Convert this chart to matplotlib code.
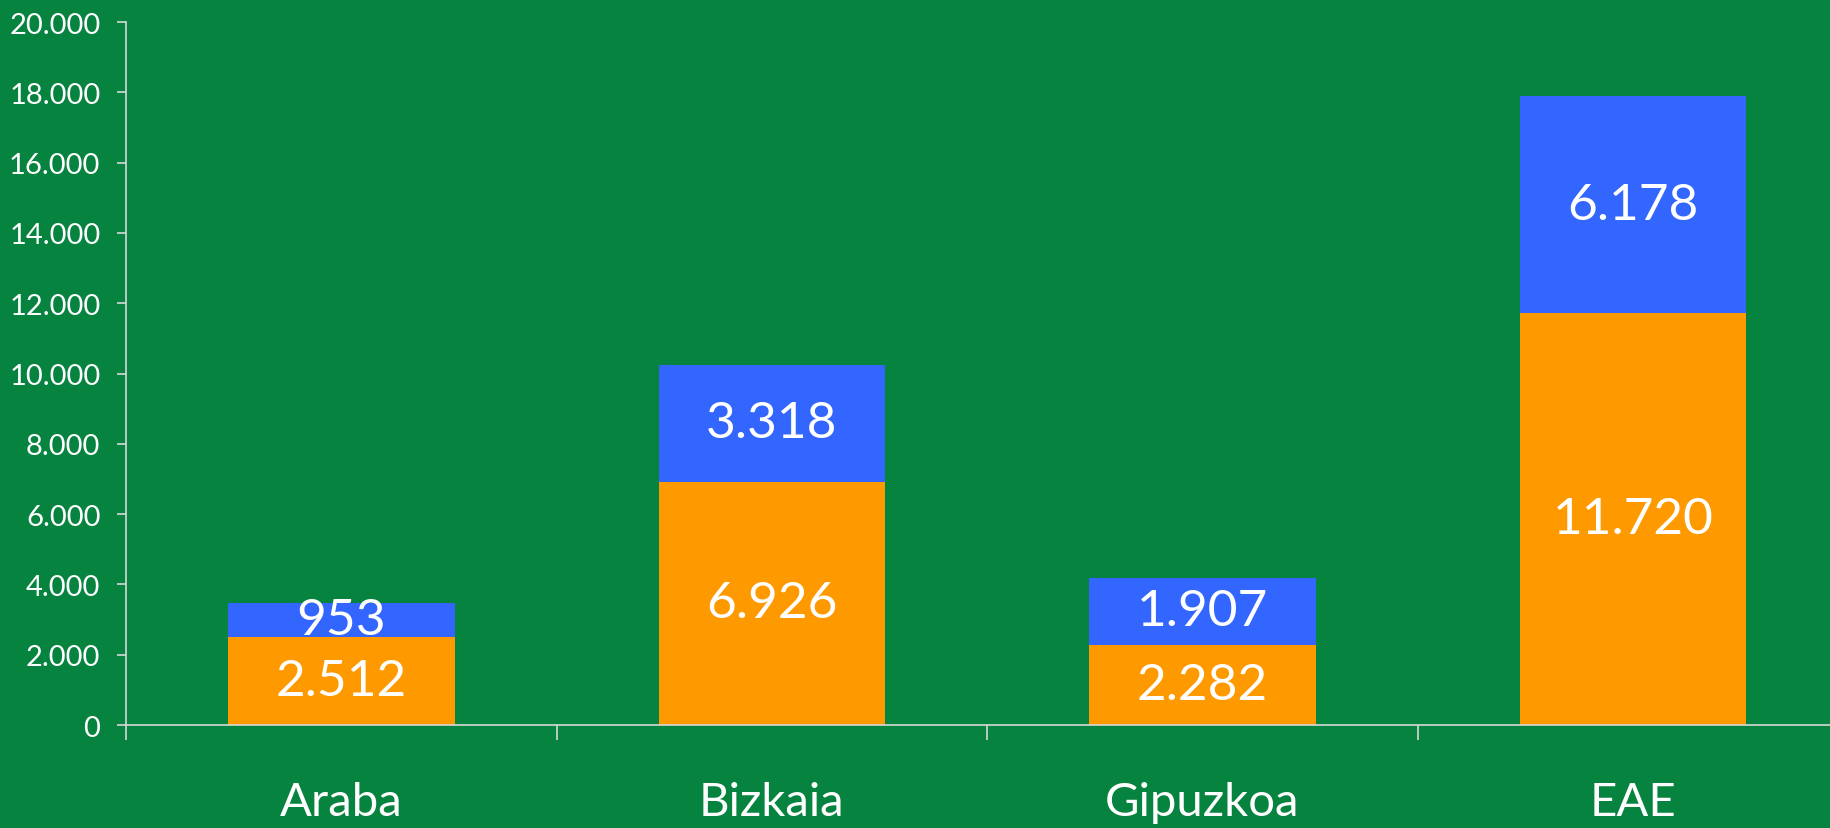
import matplotlib.pyplot as plt
from matplotlib.ticker import FuncFormatter

categories = ['Araba', 'Bizkaia', 'Gipuzkoa', 'EAE']
bottom_vals = [2512, 6926, 2282, 11720]
top_vals = [953, 3318, 1907, 6178]

bg = '#05833F'
orange = '#FF9900'
blue = '#3366FF'
axis_col = '#D9D9D9'

plt.rcParams['font.family'] = ['Lato', 'DejaVu Sans']

fig = plt.figure(figsize=(18.3, 8.29), dpi=100, facecolor=bg)
ax = fig.add_axes([0.0689, 0.1242, 0.941, 0.848], facecolor=bg)

x = list(range(len(categories)))
w = 0.526
ax.bar(x, bottom_vals, width=w, color=orange, zorder=2)
ax.bar(x, top_vals, width=w, bottom=bottom_vals, color=blue, zorder=2)

fmt = lambda v: f'{v:,}'.replace(',', '.')
for i in x:
    ax.text(i, bottom_vals[i] / 2, fmt(bottom_vals[i]), ha='center', va='center',
            color='white', fontsize=37, zorder=3)
    ax.text(i, bottom_vals[i] + top_vals[i] / 2, fmt(top_vals[i]), ha='center', va='center',
            color='white', fontsize=37, zorder=3)

ax.set_xlim(-0.5, 3.5)
ax.set_ylim(0, 20000)
ax.set_yticks(range(0, 20001, 2000))
ax.yaxis.set_major_formatter(FuncFormatter(lambda v, p: fmt(int(v))))

ax.set_xticks(x)
ax.set_xticklabels(categories)
ax.set_xticks([-0.5, 0.5, 1.5, 2.5, 3.5], minor=True)
ax.tick_params(axis='x', which='major', length=0, pad=40, labelsize=34, labelcolor='white')
ax.tick_params(axis='x', which='minor', length=11, width=1.2, color=axis_col)
ax.tick_params(axis='y', length=6.5, width=1.2, color=axis_col, pad=12,
               labelsize=21, labelcolor='white')

for s in ['top', 'right']:
    ax.spines[s].set_visible(False)
for s in ['left', 'bottom']:
    ax.spines[s].set_color(axis_col)
    ax.spines[s].set_linewidth(1.2)

fig.savefig('out.png', dpi=100, facecolor=bg)
